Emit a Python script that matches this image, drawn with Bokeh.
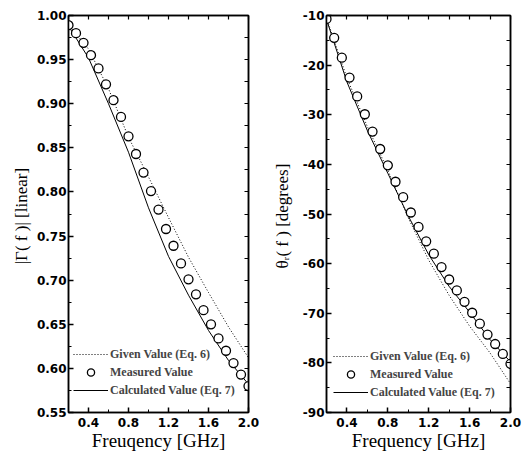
from bokeh.plotting import figure
from bokeh.models import (LinearAxis, FixedTicker, PrintfTickFormatter, Range1d,
                          Legend, LegendItem)
from bokeh.layouts import row
from bokeh.embed import file_html
from bokeh.resources import INLINE

# ---------------- data ----------------
freq_meas = [0.2, 0.275, 0.35, 0.425, 0.5, 0.575, 0.65, 0.725, 0.8, 0.875,
             0.95, 1.025, 1.1, 1.175, 1.25, 1.325, 1.4, 1.475, 1.55, 1.625,
             1.7, 1.775, 1.85, 1.925, 2.0]
freq_line = [0.2, 0.4, 0.6, 0.8, 1.0, 1.2, 1.4, 1.6, 1.8, 2.0]

mag_measured = [0.989, 0.980, 0.969, 0.955, 0.940, 0.922, 0.904, 0.885, 0.863,
                0.843, 0.822, 0.801, 0.780, 0.758, 0.739, 0.719, 0.701, 0.684,
                0.666, 0.650, 0.634, 0.620, 0.606, 0.593, 0.580]
mag_given = [0.990, 0.962, 0.917, 0.862, 0.817, 0.771, 0.726, 0.686, 0.647, 0.612]
mag_calc = [0.988, 0.952, 0.900, 0.845, 0.782, 0.727, 0.683, 0.643, 0.609, 0.582]

phase_measured = [-10.7, -14.5, -18.5, -22.5, -26.3, -29.9, -33.4, -36.9, -40.2,
                  -43.5, -46.6, -49.7, -52.6, -55.5, -58.0, -60.7, -63.2, -65.4,
                  -67.7, -69.9, -72.1, -74.3, -76.2, -78.2, -80.2]
phase_given = [-10.5, -22.6, -32.4, -41.2, -50.8, -59.3, -66.4, -72.6, -78.0, -84.2]
phase_calc = [-10.8, -23.4, -33.2, -41.8, -50.4, -58.2, -64.6, -69.8, -75.3, -79.8]

x_major = [0.4, 0.8, 1.2, 1.6, 2.0]
x_minor = [0.2, 0.6, 1.0, 1.4, 1.8]
mag_major = [0.55, 0.60, 0.65, 0.70, 0.75, 0.80, 0.85, 0.90, 0.95, 1.00]
mag_minor = [0.575, 0.625, 0.675, 0.725, 0.775, 0.825, 0.875, 0.925, 0.975]
ph_major = [-90, -80, -70, -60, -50, -40, -30, -20, -10]
ph_minor = [-85, -75, -65, -55, -45, -35, -25, -15]

labels = ["Given Value (Eq. 6)", "Measured Value", "Calculated Value (Eq. 7)"]

SANS = "DejaVu Sans"
SERIF = "Liberation Serif"


def style_axis(ax):
    ax.axis_line_width = 1.5
    ax.axis_line_color = "black"
    ax.major_tick_line_width = 1.5
    ax.minor_tick_line_width = 1
    ax.major_tick_in = 5
    ax.major_tick_out = 0
    ax.minor_tick_in = 3
    ax.minor_tick_out = 0
    ax.major_label_text_font = SANS
    ax.major_label_text_font_size = "12px"
    ax.major_label_text_font_style = "bold"
    ax.major_label_text_color = "black"
    ax.major_label_standoff = 2
    ax.axis_label_text_font = SERIF
    ax.axis_label_text_font_style = "normal"
    ax.axis_label_text_color = "black"


def mirror_axis(all_ticks):
    # mirror axis: every tick drawn as a (label-less) minor tick
    ax = LinearAxis(ticker=FixedTicker(ticks=[], minor_ticks=all_ticks))
    ax.axis_line_width = 1.5
    ax.axis_line_color = "black"
    ax.minor_tick_line_width = 1.2
    ax.minor_tick_in = 4
    ax.minor_tick_out = 0
    ax.major_tick_in = 0
    ax.major_tick_out = 0
    ax.major_label_standoff = 0
    return ax


def make_panel(y_range, y_major, y_minor, y_fmt, y_label, x_label,
               xs_m, ys_m, ys_g, ys_c, bl, br, legend_loc, w, ylab_standoff):
    p = figure(width=w, height=456, x_range=Range1d(0.2, 2.0), y_range=y_range,
               output_backend="svg", toolbar_location=None,
               min_border_left=bl, min_border_right=br,
               min_border_top=15, min_border_bottom=44,
               background_fill_color="white", border_fill_color="white")
    p.grid.visible = False
    p.outline_line_color = "black"
    p.outline_line_width = 1.5

    p.xaxis.ticker = FixedTicker(ticks=x_major, minor_ticks=x_minor)
    p.yaxis.ticker = FixedTicker(ticks=y_major, minor_ticks=y_minor)
    p.xaxis.formatter = PrintfTickFormatter(format="%.1f")
    p.yaxis.formatter = PrintfTickFormatter(format=y_fmt)
    for ax in p.xaxis + p.yaxis:
        style_axis(ax)
    p.xaxis.major_label_standoff = 5
    p.xaxis.axis_label = x_label
    p.xaxis.axis_label_text_font_size = "19px"
    p.xaxis.axis_label_standoff = 0
    p.yaxis.axis_label = y_label
    p.yaxis.axis_label_text_font_size = "17px"
    p.yaxis.axis_label_standoff = ylab_standoff

    p.add_layout(mirror_axis(sorted(x_major + x_minor)), "above")
    p.add_layout(mirror_axis(sorted(y_major + y_minor)), "right")

    r_g = p.line(freq_line, ys_g, line_color="black", line_width=1,
                 line_dash="1 2")
    r_c = p.line(freq_line, ys_c, line_color="black", line_width=1)
    r_m = p.scatter(xs_m, ys_m, marker="circle", size=9, fill_color="white",
                    line_color="black", line_width=1.3)

    leg = Legend(items=[LegendItem(label=labels[0], renderers=[r_g]),
                        LegendItem(label=labels[1], renderers=[r_m]),
                        LegendItem(label=labels[2], renderers=[r_c])],
                 location=legend_loc, glyph_width=35, glyph_height=18,
                 label_height=18, spacing=0, padding=0, margin=0,
                 label_standoff=2, border_line_color=None,
                 background_fill_alpha=0,
                 label_text_font=SERIF, label_text_font_style="bold",
                 label_text_font_size="12px")
    p.add_layout(leg)
    return p


p1 = make_panel(Range1d(0.55, 1.0), mag_major, mag_minor, "%.2f",
                "|Γ( f )|  [linear]", "Freuqency [GHz]",
                freq_meas, mag_measured, mag_given, mag_calc,
                68, 18, (5, 13), 266, 3)
p2 = make_panel(Range1d(-90, -10), ph_major, ph_minor, "%d",
                "θᵣ( f )  [degrees]", "Frequency [GHz]",
                freq_meas, phase_measured, phase_given, phase_calc,
                60, 22, (7, 11), 266, 8)

layout = row(p1, p2)
open("out.html", "w").write(file_html(layout, INLINE))
